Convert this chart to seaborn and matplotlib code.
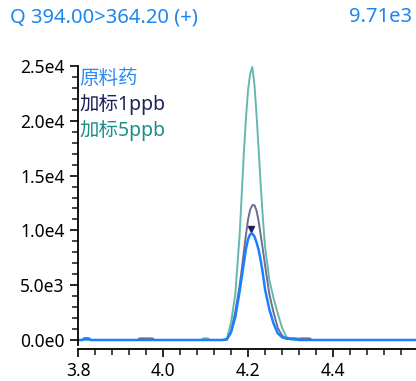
import numpy as np
import pandas as pd
import matplotlib
matplotlib.use('Agg')
import matplotlib.pyplot as plt
import seaborn as sns
from matplotlib.ticker import MultipleLocator, FuncFormatter

# retention time (min) and intensity
time = [3.80, 3.81, 3.815, 3.825, 3.83, 3.84, 3.90, 3.94, 3.945, 3.975, 3.98, 4.00,
        4.09, 4.095, 4.105, 4.11, 4.14, 4.15, 4.16, 4.17, 4.18, 4.185, 4.19, 4.195,
        4.20, 4.205, 4.21, 4.215, 4.22, 4.225, 4.23, 4.235, 4.24, 4.25, 4.26, 4.27,
        4.28, 4.29, 4.30, 4.31, 4.32, 4.325, 4.345, 4.35, 4.40, 4.50, 4.60]
raw_drug = [0, 0, 150, 150, 0, 0, 0, 0, 0, 0, 0, 0,
            0, 0, 0, 0, 0, 50, 700, 2100, 4400, 5700, 7000, 8300,
            9200, 9650, 9700, 9450, 8900, 8200, 7200, 6000, 4600, 2800, 1500, 600,
            250, 120, 100, 100, 0, 0, 0, 0, 0, 0, 0]
spike_1ppb = [0, 0, 80, 80, 0, 0, 0, 0, 150, 150, 0, 0,
              0, 0, 0, 0, 0, 50, 800, 2600, 4900, 6400, 8000, 9600,
              11000, 11900, 12300, 12300, 11800, 10800, 9500, 8200, 6800, 4200, 2500, 1100,
              400, 150, 150, 150, 120, 150, 150, 0, 0, 0, 0]
spike_5ppb = [0, 0, 0, 0, 0, 0, 0, 0, 0, 0, 0, 0,
              0, 150, 150, 0, 0, 100, 1600, 4200, 9500, 13200, 17000, 20200,
              22800, 24300, 24900, 23300, 20500, 17300, 14000, 11000, 8500, 5500, 3800, 2400,
              1100, 300, 50, 0, 0, 0, 0, 0, 0, 0, 0]

names = ['原料药', '加标1ppb', '加标5ppb']
line_colors = ['#1a80ff', '#6e6c90', '#66b8ae']
text_colors = ['#2a8cf0', '#1f1f5a', '#1a8f88']

peak_time = 4.207
peak_height = 10150

df = pd.DataFrame({'time': time * 3,
                   'intensity': raw_drug + spike_1ppb + spike_5ppb,
                   'sample': [names[0]] * len(time) + [names[1]] * len(time) + [names[2]] * len(time)})

sns.set_style('ticks')
plt.rcParams['font.family'] = ['Noto Sans', 'Noto Sans CJK SC', 'DejaVu Sans']

fig = plt.figure(figsize=(4.16, 3.81), dpi=100)
ax = fig.add_axes([0.1875, 0.0945, 0.8125, 0.7323])

# draw the two spiked samples first, blue sample on top
for name, col, lw in [(names[2], line_colors[2], 1.4), (names[1], line_colors[1], 1.4), (names[0], line_colors[0], 1.8)]:
    sns.lineplot(data=df[df['sample'] == name], x='time', y='intensity', color=col,
                 linewidth=lw, ax=ax, legend=False)

ax.plot([peak_time], [peak_height], marker='v', color='#1f1f5a', markersize=5, linestyle='none')

ax.set_xlim(3.8, 4.595)
ax.set_ylim(-456, 25000)
ax.xaxis.set_major_locator(MultipleLocator(0.2))
ax.xaxis.set_minor_locator(MultipleLocator(0.04))
ax.yaxis.set_major_locator(MultipleLocator(5000))
ax.yaxis.set_minor_locator(MultipleLocator(1000))
ax.xaxis.set_major_formatter(FuncFormatter(lambda v, p: f'{v:.1f}'))


def sci(v, p):
    if v == 0:
        return '0.0e0'
    e = int(np.floor(np.log10(abs(v))))
    return f'{v / 10 ** e:.1f}e{e}'


ax.yaxis.set_major_formatter(FuncFormatter(sci))
ax.tick_params(which='major', length=6, width=1.2, labelsize=12.5, colors='black')
ax.tick_params(which='minor', length=4, width=1.2)
ax.set_xlabel('')
ax.set_ylabel('')
for s in ['top', 'right']:
    ax.spines[s].set_visible(False)
for s in ['left', 'bottom']:
    ax.spines[s].set_linewidth(1.3)
    ax.spines[s].set_color('black')
ax.spines['bottom'].set_position(('outward', 3))

# text-only legend
for i, (name, col) in enumerate(zip(names, text_colors)):
    ax.text(3.803, 23800 - i * 2350, name, color=col, fontsize=14, va='center', ha='left')

fig.text(10 / 416, 1 - 17 / 381, 'Q 394.00>364.20 (+)', color='#1c86f0', fontsize=14.5, va='center', ha='left')
fig.text(412 / 416, 1 - 17 / 381, '9.71e3', color='#1c86f0', fontsize=14.5, va='center', ha='right')

fig.savefig('out.png', dpi=100)
